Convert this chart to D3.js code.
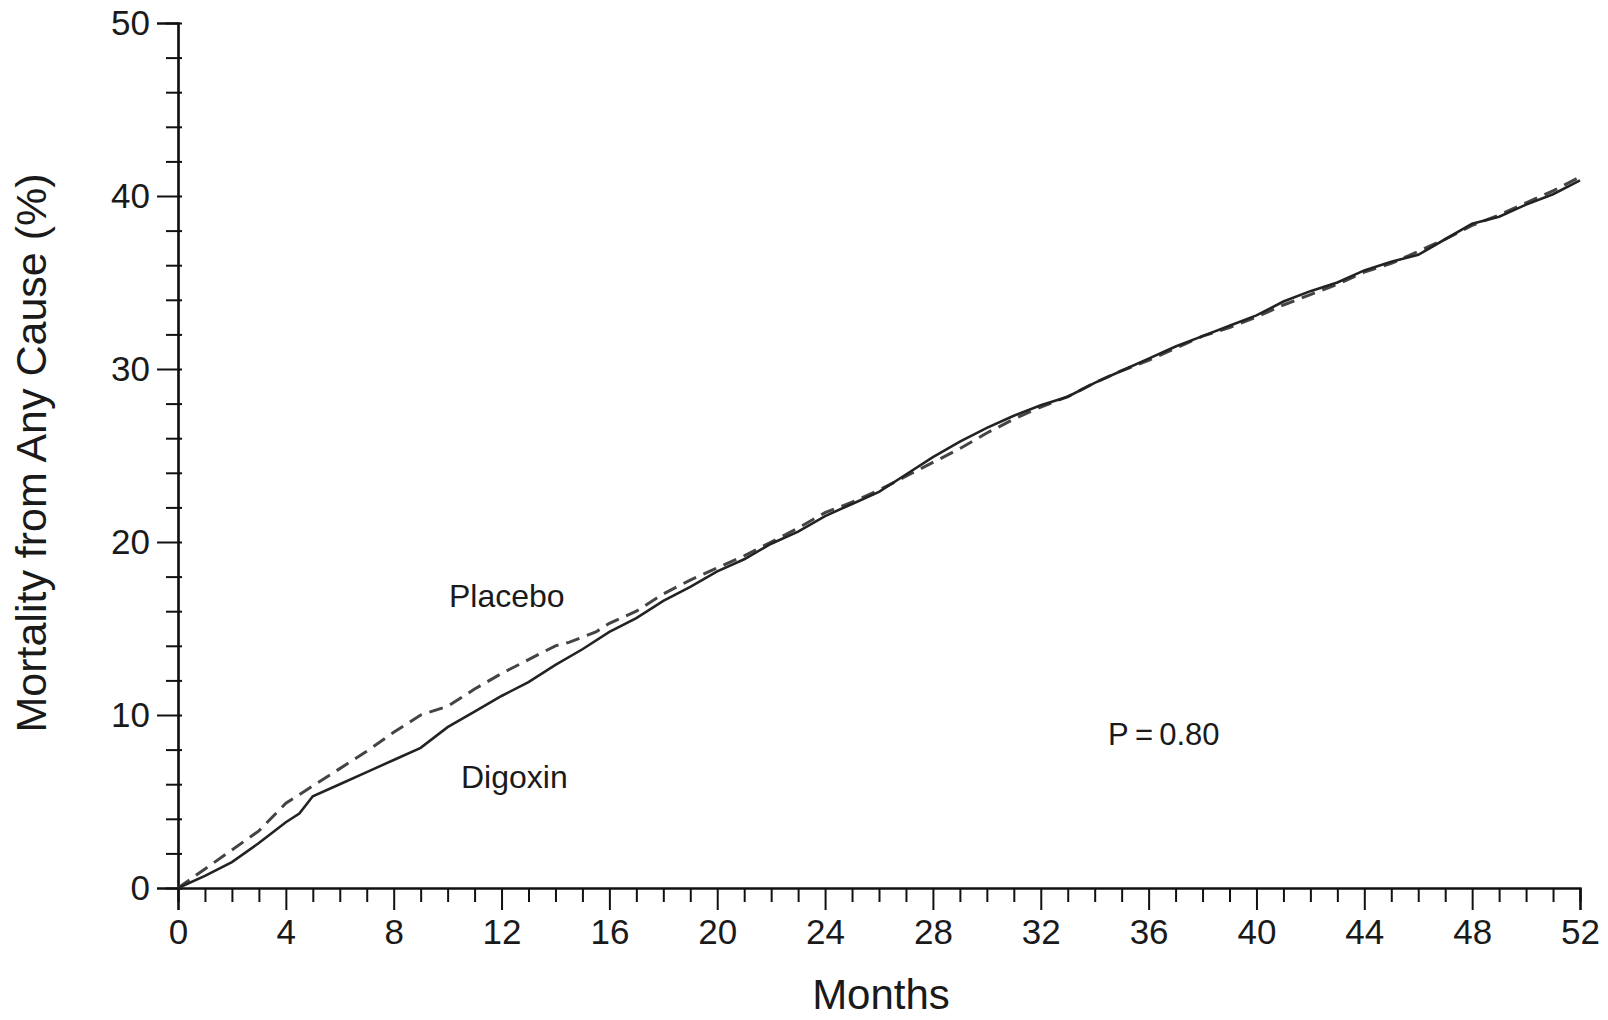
<html>
<script src="https://d3js.org/d3.v7.min.js"></script>
<head>
<style>
  body { margin: 0; background: #fff; }
  text { font-family: "Liberation Sans", Arial, sans-serif; fill: #1a1a1a; }
</style>
</head>
<body onload='init()'>
<svg width=1608 height=1020></svg>
<script>
// months and cumulative mortality (%)
var digoxinMonths = [0,1,2,3,4,4.5,5,6,7,8,9,10,11,12,13,14,15,16,17,18,19,20,21,22,23,24,25,26,27,28,29,30,31,32,33,34,35,36,37,38,39,40,41,42,43,44,45,46,47,48,49,50,51,52];
var digoxinValues = [0,0.7,1.5,2.6,3.8,4.3,5.3,6.0,6.7,7.4,8.1,9.3,10.2,11.1,11.9,12.9,13.8,14.8,15.6,16.6,17.4,18.3,19.0,19.9,20.6,21.5,22.2,22.9,23.9,24.9,25.8,26.6,27.3,27.9,28.4,29.2,29.9,30.6,31.3,31.9,32.5,33.1,33.9,34.5,35.0,35.7,36.2,36.6,37.5,38.4,38.8,39.5,40.1,40.9];

var placeboMonths = [0,1,2,3,4,5,6,7,8,9,10,11,12,13,14,14.5,15,15.5,16,17,18,19,20,21,22,23,24,25,26,27,28,29,30,31,32,33,34,35,36,37,38,39,40,41,42,43,44,45,46,47,48,49,50,51,52];
var placeboValues = [0,1.1,2.2,3.3,4.9,5.9,6.9,7.9,9.0,10.0,10.5,11.5,12.4,13.2,14.0,14.2,14.5,14.8,15.3,16.0,17.0,17.8,18.5,19.2,20.0,20.8,21.7,22.3,23.0,23.8,24.6,25.4,26.3,27.1,27.8,28.4,29.2,29.9,30.5,31.2,31.9,32.4,33.0,33.7,34.3,34.9,35.6,36.1,36.8,37.5,38.3,38.9,39.6,40.3,41.1];

var xMajor = [0,4,8,12,16,20,24,28,32,36,40,44,48,52];
var xMinor = d3.range(0, 53).filter(function(d){ return d % 4 != 0; });
var yMajor = [0,10,20,30,40,50];
var yMinor = d3.range(0, 51, 2).filter(function(d){ return d % 10 != 0; });

function init() {
  var svg = d3.select("svg");
  var x = d3.scaleLinear().domain([0,52]).range([178,1580]);
  var y = d3.scaleLinear().domain([0,50]).range([888,23]);

  // y axis
  var gy = svg.append("g").attr("transform", "translate(178,0)");
  gy.append("g")
    .call(d3.axisLeft(y).tickValues(yMinor).tickSize(12).tickFormat(""));
  gy.append("g")
    .call(d3.axisLeft(y).tickValues(yMajor).tickSize(21).tickPadding(7))
    .selectAll("text").style("font-size", "35px");
  gy.selectAll(".tick line").attr("x1", 4).attr("stroke", "#111").attr("stroke-width", 2);
  gy.selectAll(".domain").attr("stroke", "#111").attr("stroke-width", 2.2);

  // x axis
  var gx = svg.append("g").attr("transform", "translate(0,888)");
  gx.append("g")
    .call(d3.axisBottom(x).tickValues(xMinor).tickSize(14).tickFormat(""));
  gx.append("g")
    .call(d3.axisBottom(x).tickValues(xMajor).tickSize(22).tickPadding(9))
    .selectAll("text").style("font-size", "35px");
  gx.selectAll(".tick line").attr("stroke", "#111").attr("stroke-width", 2);
  gx.selectAll(".domain").attr("stroke", "#111").attr("stroke-width", 2.2);
  svg.selectAll(".tick text").style("fill", "#1a1a1a");

  var line = d3.line()
    .x(function(d){ return x(d[0]); })
    .y(function(d){ return y(d[1]); });

  svg.append("path")
    .datum(d3.zip(placeboMonths, placeboValues))
    .attr("d", line)
    .attr("fill", "none")
    .attr("stroke", "#444")
    .attr("stroke-width", 3)
    .attr("stroke-dasharray", "14,8");

  svg.append("path")
    .datum(d3.zip(digoxinMonths, digoxinValues))
    .attr("d", line)
    .attr("fill", "none")
    .attr("stroke", "#222")
    .attr("stroke-width", 2.6);

  // labels
  svg.append("text").attr("x", 449).attr("y", 607)
    .style("font-size", "32px").text("Placebo");
  svg.append("text").attr("x", 461).attr("y", 788)
    .style("font-size", "32px").text("Digoxin");
  svg.append("text").attr("x", 1108).attr("y", 745)
    .style("font-size", "31px").text("P\u2009=\u20090.80");

  svg.append("text").attr("x", 881).attr("y", 1009)
    .attr("text-anchor", "middle").style("font-size", "42px").text("Months");
  svg.append("text")
    .attr("transform", "translate(46,453) rotate(-90)")
    .attr("text-anchor", "middle").style("font-size", "43px")
    .text("Mortality from Any Cause (%)");
}
</script>
</body>
</html>
